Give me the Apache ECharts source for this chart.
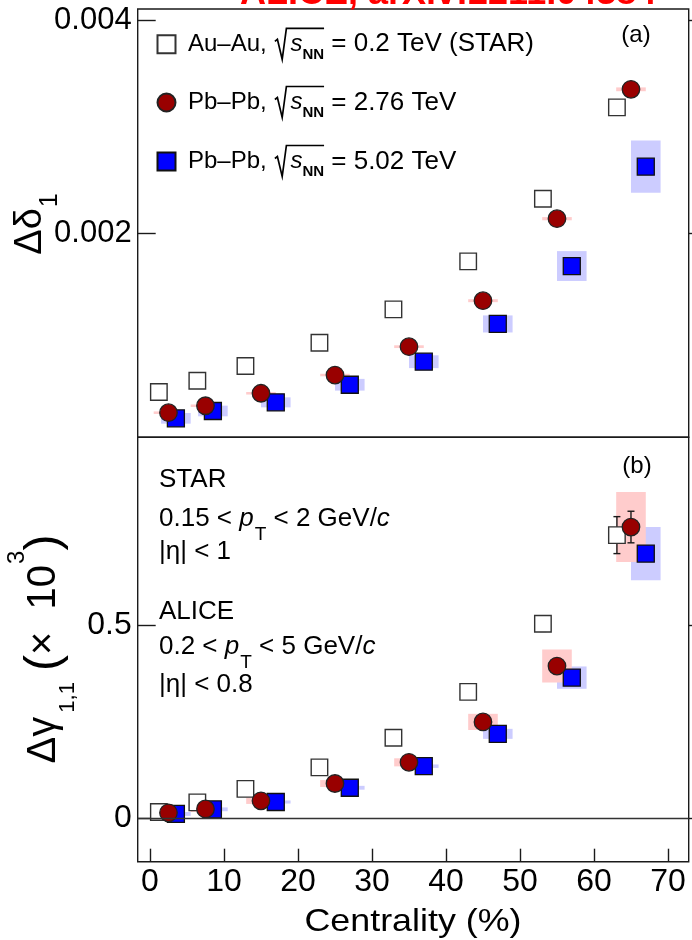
<!DOCTYPE html>
<html>
<head>
<meta charset="utf-8">
<script src="https://cdn.jsdelivr.net/npm/echarts@6/dist/echarts.min.js"></script>
<style>
  html, body { margin: 0; padding: 0; background: #fff; }
  #chart { width: 692px; height: 940px; }
</style>
</head>
<body>
<div id="chart"></div>
<script>
// ---- data -------------------------------------------------------------
// centrality positions (%) of the three data sets (slightly offset for visibility)
const starCent  = [1.2, 6.4, 12.9, 22.9, 32.9, 43.0, 53.1, 63.1];
const pb276Cent = [2.5, 7.5, 15, 25, 35, 45, 55, 65];
const pb502Cent = [3.5, 8.5, 17, 27, 37, 47, 57, 67];

// (a) Delta delta_1
const starDd      = [0.000512, 0.000618, 0.000756, 0.000974, 0.001287, 0.001737, 0.002324, 0.003181];
const pb276Dd     = [0.000318, 0.000383, 0.000500, 0.000671, 0.000937, 0.001368, 0.002137, 0.003350];
const pb276DdSys  = [0.000012, 0.000012, 0.000012, 0.000012, 0.000013, 0.000014, 0.000015, 0.000018];
const pb502Dd     = [0.000265, 0.000334, 0.000415, 0.000580, 0.000796, 0.001150, 0.001693, 0.002625];
const pb502DdSys  = [0.000050, 0.000050, 0.000047, 0.000055, 0.000060, 0.000080, 0.000140, 0.000244];

// (b) Delta gamma_{1,1} (x 10^3)
const starDg      = [0.015, 0.040, 0.075, 0.131, 0.208, 0.327, 0.504, 0.734];
const starDgStat  = [0.004, 0.005, 0.005, 0.006, 0.008, 0.012, 0.020, 0.048];
const pb276Dg     = [0.013, 0.023, 0.044, 0.089, 0.144, 0.249, 0.394, 0.755];
const pb276DgStat = [0.003, 0.003, 0.004, 0.005, 0.007, 0.011, 0.018, 0.041];
const pb276DgSys  = [0.010, 0.008, 0.008, 0.009, 0.0105, 0.021, 0.043, 0.091];
const pb502Dg     = [0.010, 0.022, 0.041, 0.078, 0.134, 0.218, 0.364, 0.686];
const pb502DgSys  = [0.005, 0.005, 0.004, 0.005, 0.0045, 0.013, 0.029, 0.069];

// axis ticks
const centTicks  = [0, 10, 20, 30, 40, 50, 60, 70];
const ddTicks    = [0.002, 0.004];
const dgTicks    = [0, 0.5];

// legend
const seriesNames   = ['Au–Au STAR', 'Pb–Pb 2.76 TeV', 'Pb–Pb 5.02 TeV'];
const legendSystem  = ['Au–Au, ', 'Pb–Pb, ', 'Pb–Pb, '];
const legendEnergy  = [' = 0.2 TeV (STAR)', ' = 2.76 TeV', ' = 5.02 TeV'];

// ---- style -----------------------------------------------------------
const FONT = '"Liberation Sans", Arial, Helvetica, sans-serif';
const INK = '#1a1a1a';
const BOX_HALF_WIDTH = 2;          // half width of systematic boxes, centrality units
const PINK_BOX = '#ffcccc';
const BLUE_BOX = '#ccccff';

const measureCtx = document.createElement('canvas').getContext('2d');
function textWidth(str, font) { measureCtx.font = font; return measureCtx.measureText(str).width; }

function zip3(xs, ys, es) { return xs.map((x, i) => [x, ys[i], es ? es[i] : 0]); }

function boxSeries(name, xi, yi, data, color) {
  return {
    type: 'custom', name, xAxisIndex: xi, yAxisIndex: yi, silent: true,
    encode: { x: 0, y: 1 },
    data,
    renderItem(params, api) {
      const x = api.value(0), y = api.value(1), e = api.value(2);
      const p1 = api.coord([x - BOX_HALF_WIDTH, y + e]);
      const p2 = api.coord([x + BOX_HALF_WIDTH, y - e]);
      return {
        type: 'rect',
        shape: { x: p1[0], y: p1[1], width: p2[0] - p1[0], height: Math.max(p2[1] - p1[1], 2) },
        style: { fill: color }
      };
    }
  };
}

function errorSeries(name, xi, yi, data) {
  return {
    type: 'custom', name, xAxisIndex: xi, yAxisIndex: yi, silent: true,
    encode: { x: 0, y: 1 },
    data,
    renderItem(params, api) {
      const x = api.value(0), y = api.value(1), e = api.value(2);
      const top = api.coord([x, y + e]);
      const bot = api.coord([x, y - e]);
      const cap = 3.5;
      const ls = { stroke: INK, lineWidth: 1.4 };
      return {
        type: 'group',
        children: [
          { type: 'line', shape: { x1: top[0], y1: top[1], x2: bot[0], y2: bot[1] }, style: ls },
          { type: 'line', shape: { x1: top[0] - cap, y1: top[1], x2: top[0] + cap, y2: top[1] }, style: ls },
          { type: 'line', shape: { x1: bot[0] - cap, y1: bot[1], x2: bot[0] + cap, y2: bot[1] }, style: ls }
        ]
      };
    }
  };
}

const starStyle  = { color: '#ffffff', borderColor: '#333333', borderWidth: 1.4, opacity: 1 };
const pb276Style = { color: '#990000', borderColor: '#222222', borderWidth: 1.3, opacity: 1 };
const pb502Style = { color: '#0000ff', borderColor: '#111111', borderWidth: 1.3, opacity: 1 };

function markerSeries(name, xi, yi, xs, ys, symbol, size, style) {
  return {
    type: 'scatter', name, xAxisIndex: xi, yAxisIndex: yi,
    symbol, symbolSize: size, itemStyle: style,
    data: xs.map((x, i) => [x, ys[i]]),
    emphasis: { disabled: true }
  };
}

function panelSeries(xi, yi, star, starErr, p276, p276Err, p276Sys, p502, p502Sys) {
  const list = [];
  list.push(boxSeries('sys502', xi, yi, zip3(pb502Cent, p502, p502Sys), BLUE_BOX));
  list.push(markerSeries(seriesNames[2], xi, yi, pb502Cent, p502, 'rect', 17, pb502Style));
  list.push(boxSeries('sys276', xi, yi, zip3(pb276Cent, p276, p276Sys), PINK_BOX));
  if (starErr) list.push(errorSeries('statStar', xi, yi, zip3(starCent, star, starErr)));
  list.push(markerSeries(seriesNames[0], xi, yi, starCent, star, 'rect', 16.5, starStyle));
  if (p276Err) list.push(errorSeries('stat276', xi, yi, zip3(pb276Cent, p276, p276Err)));
  list.push(markerSeries(seriesNames[1], xi, yi, pb276Cent, p276, 'circle', 17.5, pb276Style));
  return list;
}

const seriesA = panelSeries(0, 0, starDd, null, pb276Dd, null, pb276DdSys, pb502Dd, pb502DdSys);
const seriesB = panelSeries(1, 1, starDg, starDgStat, pb276Dg, pb276DgStat, pb276DgSys, pb502Dg, pb502DgSys);
// zero reference line in panel (b)
seriesB[1].markLine = {
  silent: true, symbol: 'none', label: { show: false },
  lineStyle: { color: '#333', width: 1.4, type: 'solid' },
  data: [{ yAxis: 0 }]
};

const GRID_LEFT = 137.7, GRID_W = 551;
const X_MIN = -1.66, X_MAX = 72.8;
const tickStyle = { color: INK, width: 1.4 };

// ---- legend: one block per entry, radical sign drawn as a path ----------
const LEG_FS = 24, LEG_FS2 = 26, SUB_FS = 15, RAD_GAP = 17;
const LEG_ICON_X = 165.5;                 // centre of legend symbols
const LEG_CENTERS = [44.3, 102.5, 161.5]; // vertical centres of legend rows
const LEG_TEXT_PAD = 7.5;
const legendTextX = LEG_ICON_X - 9 + 18 + 5 + LEG_TEXT_PAD;

const legends = seriesNames.map((name, i) => ({
  data: [name],
  left: LEG_ICON_X - 9, top: LEG_CENTERS[i] - 13,
  padding: 0,
  itemWidth: 18, itemHeight: 18, itemGap: 0,
  selectedMode: false,
  formatter: () => '{t0|' + legendSystem[i] + '}{g| }{s|s}{n|NN}{t|' + legendEnergy[i] + '}',
  textStyle: {
    fontFamily: FONT, color: '#000',
    rich: {
      t0: { fontSize: LEG_FS, lineHeight: 36, fontFamily: FONT, color: '#000', padding: [0, 0, 0, LEG_TEXT_PAD] },
      t:  { fontSize: LEG_FS2, lineHeight: 36, fontFamily: FONT, color: '#000' },
      g:  { fontSize: LEG_FS, lineHeight: 36, width: RAD_GAP, fontFamily: FONT },
      s:  { fontSize: LEG_FS, lineHeight: 36, fontFamily: FONT, color: '#000', fontStyle: 'italic' },
      n:  { fontSize: SUB_FS, lineHeight: 13, fontFamily: FONT, color: '#000', fontWeight: 'bold', verticalAlign: 'bottom' }
    }
  }
}));

const radicals = seriesNames.map((name, i) => {
  const x0 = legendTextX + textWidth(legendSystem[i], LEG_FS + 'px ' + FONT);
  const x1 = x0 + RAD_GAP + textWidth('s', 'italic ' + LEG_FS + 'px ' + FONT)
                 + textWidth('NN', 'bold ' + SUB_FS + 'px ' + FONT) + 1;
  const yc = LEG_CENTERS[i];
  return {
    type: 'polyline',
    shape: { points: [[x0 + 2.5, yc - 3], [x0 + 5, yc - 5], [x0 + 9.8, yc + 15], [x0 + 14, yc - 16], [x1, yc - 16]] },
    style: { stroke: '#000', lineWidth: 1.7, fill: null, lineJoin: 'miter' }
  };
});

const option = {
  animation: false,
  backgroundColor: '#ffffff',
  textStyle: { fontFamily: FONT, color: '#000' },
  grid: [
    { left: GRID_LEFT, top: 9, width: GRID_W, height: 428.3, show: true, borderColor: INK, borderWidth: 1.4, backgroundColor: 'transparent' },
    { left: GRID_LEFT, top: 437.3, width: GRID_W, height: 424.4, show: true, borderColor: INK, borderWidth: 1.4, backgroundColor: 'transparent' }
  ],
  xAxis: [
    { type: 'value', gridIndex: 0, min: X_MIN, max: X_MAX,
      axisLine: { show: false, onZero: false }, axisTick: { show: false }, axisLabel: { show: false }, splitLine: { show: false } },
    { type: 'value', gridIndex: 1, min: X_MIN, max: X_MAX,
      axisLine: { show: false, onZero: false },
      axisTick: { show: true, inside: true, length: 13, customValues: centTicks, lineStyle: tickStyle },
      axisLabel: { show: true, customValues: centTicks, fontSize: 32, margin: 4, color: '#000', fontFamily: FONT },
      splitLine: { show: false } }
  ],
  yAxis: [
    { type: 'value', gridIndex: 0, min: 0.0000872, max: 0.004103,
      axisLine: { show: false, onZero: false },
      axisTick: { show: true, inside: true, length: 18, customValues: ddTicks, lineStyle: tickStyle },
      axisLabel: { show: true, customValues: ddTicks, fontSize: 31, margin: 6, color: '#000', fontFamily: FONT,
                   formatter: v => v.toFixed(3) },
      splitLine: { show: false } },
    { type: 'value', gridIndex: 1, min: -0.114, max: 0.988,
      axisLine: { show: false, onZero: false },
      axisTick: { show: true, inside: true, length: 18, customValues: dgTicks, lineStyle: tickStyle },
      axisLabel: { show: true, customValues: dgTicks, fontSize: 32, margin: 6, color: '#000', fontFamily: FONT,
                   formatter: v => (v === 0 ? '0' : String(v)) },
      splitLine: { show: false } },
    { type: 'value', gridIndex: 0, position: 'right', min: 0.0000872, max: 0.004103,
      axisLine: { show: false, onZero: false },
      axisTick: { show: true, inside: false, length: 4, customValues: ddTicks, lineStyle: tickStyle },
      axisLabel: { show: false }, splitLine: { show: false } },
    { type: 'value', gridIndex: 1, position: 'right', min: -0.114, max: 0.988,
      axisLine: { show: false, onZero: false },
      axisTick: { show: true, inside: false, length: 4, customValues: dgTicks, lineStyle: tickStyle },
      axisLabel: { show: false }, splitLine: { show: false } }
  ],
  legend: legends,
  graphic: [
    ...radicals,
    // source tag at the very top
    { type: 'text', x: 240, y: -6,
      style: { text: 'ALICE, arXiv:2211.04384', fill: '#ff0000', fontSize: 36, fontWeight: 'bold', fontFamily: FONT,
               align: 'left', verticalAlign: 'middle' } },
    // panel tags
    { type: 'text', x: 636, y: 35, style: { text: '(a)', fill: '#000', fontSize: 24, fontFamily: FONT, align: 'center', verticalAlign: 'middle' } },
    { type: 'text', x: 637, y: 466, style: { text: '(b)', fill: '#000', fontSize: 24, fontFamily: FONT, align: 'center', verticalAlign: 'middle' } },
    // x-axis title
    { type: 'text', x: 413, y: 922, scaleX: 1.12,
      style: { text: 'Centrality (%)', fill: '#000', fontSize: 32, fontFamily: FONT, align: 'center', verticalAlign: 'middle' } },
    // y-axis titles
    { type: 'text', x: 30.6, y: 224, rotation: Math.PI / 2,
      style: { text: '{d|Δδ}{s|1}', align: 'center', verticalAlign: 'middle', fill: '#000',
               rich: {
                 d: { fontSize: 38, lineHeight: 38, verticalAlign: 'top', fontFamily: FONT, fill: '#000' },
                 s: { fontSize: 25, lineHeight: 25, verticalAlign: 'top', padding: [26, 0, 0, 1], fontFamily: FONT, fill: '#000' }
               } } },
    { type: 'text', x: 21, y: 649, rotation: Math.PI / 2,
      style: { text: '{d|Δγ}{s|1,1}{d| }{b|(}{d|×  10}{p|3}{b|)}', align: 'center', verticalAlign: 'middle', fill: '#000',
               rich: {
                 d: { fontSize: 40, lineHeight: 40, verticalAlign: 'top', padding: [23, 0, 0, 0], fontFamily: FONT, fill: '#000' },
                 b: { fontSize: 48, lineHeight: 40, verticalAlign: 'top', padding: [20.2, 0, 0, 0], fontFamily: FONT, fill: '#000' },
                 s: { fontSize: 22, lineHeight: 40, verticalAlign: 'top', padding: [56, 0, 0, 4], fontFamily: FONT, fill: '#000' },
                 p: { fontSize: 24, lineHeight: 40, verticalAlign: 'top', padding: [4.6, 0, 0, 1], fontFamily: FONT, fill: '#000' }
               } } },
    // selection notes in panel (b)
    ...[
      { y: 467.3, text: '{m|STAR}' },
      { y: 505.6, text: '{m|0.15 < }{i|p}{u|T}{m| < 2 GeV/}{i|c}' },
      { y: 538.6, text: '{m||η| < 1}' },
      { y: 598.6, text: '{m|ALICE}' },
      { y: 633.6, text: '{m|0.2 < }{i|p}{u|T}{m| < 5 GeV/}{i|c}' },
      { y: 672.3, text: '{m||η| < 0.8}' }
    ].map(t => ({
      type: 'text', x: 159, y: t.y,
      style: {
        text: t.text, align: 'left', verticalAlign: 'top', fill: '#000',
        rich: {
          m: { fontSize: 26, lineHeight: 26, verticalAlign: 'top', fontFamily: FONT, fill: '#000' },
          i: { fontSize: 26, lineHeight: 26, verticalAlign: 'top', fontStyle: 'italic', fontFamily: FONT, fill: '#000' },
          u: { fontSize: 19, lineHeight: 19, verticalAlign: 'top', padding: [19.5, 0, 0, 1], fontFamily: FONT, fill: '#000' }
        }
      }
    }))
  ],
  series: [...seriesA, ...seriesB]
};

const chart = echarts.init(document.getElementById('chart'), null, { renderer: 'canvas' });
chart.setOption(option);
</script>
</body>
</html>
